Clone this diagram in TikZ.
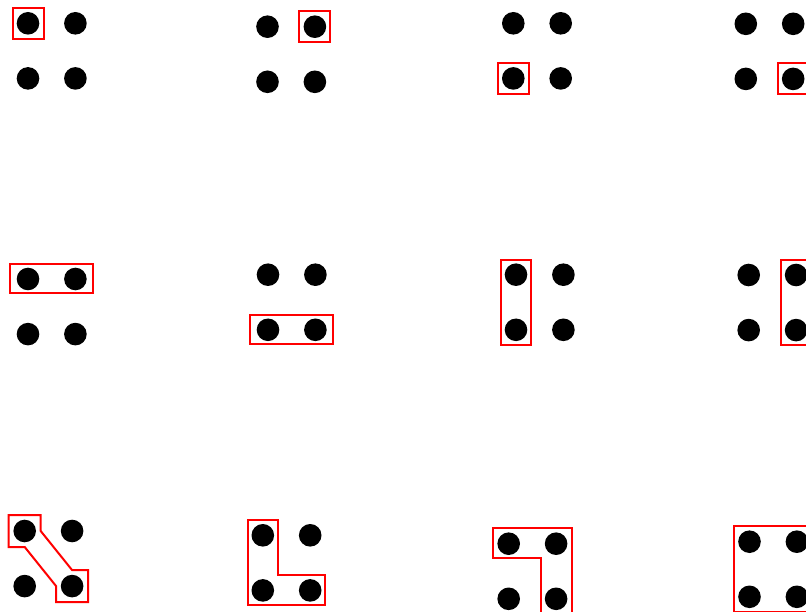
\documentclass[tikz,border=0pt]{standalone}
\usepackage{tikz}
\usetikzlibrary{positioning,fit,calc}
\tikzset{
dot/.style={
circle,
fill=black,
inner sep=0pt,
minimum size=22.6pt
},
selbox/.style={
draw=red,
line width=2pt,
inner sep=4pt
},
widebox/.style={
selbox,
inner xsep=6.5pt,
inner ysep=3pt
},
selshape/.style={
draw=red,
line width=2pt,
line join=miter
}
}
% four dots of one panel: #1a #1b on top, #1c #1d below
\newcommand{\dotgrid}[3]{%
\node[dot] (#1a) at (#2,#3) {};
\node[dot,right=of #1a] (#1b) {};
\node[dot,below=of #1a] (#1c) {};
\node[dot,below=of #1b] (#1d) {};
}

\begin{document}
\begin{tikzpicture}[x=1pt,y=-1pt,node distance=32.1pt and 24.4pt]
\useasboundingbox (0,0) rectangle (806,612);

% first row
\dotgrid{p1}{28}{23.3}
\dotgrid{p2}{267.5}{26.7}
\dotgrid{p3}{513.3}{23.3}
\dotgrid{p4}{745.8}{23.8}
\node[selbox,fit=(p1a)](s1){};
\node[selbox,fit=(p2b)](s2){};
\node[selbox,fit=(p3c)](s3){};
\node[selbox,fit=(p4d)](s4){};

% second row
\dotgrid{p5}{28}{279}
\dotgrid{p6}{268}{274.7}
\dotgrid{p7}{516}{274.7}
\dotgrid{p8}{748.7}{275}
\node[widebox,fit=(p5a)(p5b)](s5){};
\node[widebox,fit=(p6c)(p6d)](s6){};
\node[selbox,inner sep=3.5pt,fit=(p7a)(p7c)](s7){};
\node[selbox,inner sep=3.5pt,fit=(p8b)(p8d)](s8){};

% third row
\dotgrid{p9}{24.7}{531}
\dotgrid{p10}{262.8}{535.3}
\dotgrid{p11}{508.7}{543.7}
\dotgrid{p12}{749.5}{541.7}

\draw[selshape]($(p9a)+(-16,-16)$)--($(p9a)+(16,-16)$)--($(p9a)+(16,0)$)
--($(p9d)+(0,-16)$)--($(p9d)+(16,-16)$)--($(p9d)+(16,16)$)
--($(p9d)+(-16,16)$)--($(p9d)+(-16,0)$)--($(p9a)+(0,16)$)
--($(p9a)+(-16,16)$)--cycle;

\draw[selshape]($(p10a)+(-15,-15)$)--($(p10a)+(15,-15)$)--($(p10c)+(15,-15)$)
--($(p10d)+(15,-15)$)--($(p10d)+(15,15)$)--($(p10c)+(-15,15)$)--cycle;

\draw[selshape]($(p11a)+(-15.5,-15.5)$)--($(p11b)+(15.5,-15.5)$)--($(p11d)+(15.5,15.5)$)
--($(p11d)+(-15.5,15.5)$)--($(p11b)+(-15.5,14.5)$)--($(p11a)+(-15.5,14.5)$)--cycle;

\node[selbox,inner sep=3.8pt,fit=(p12a)(p12b)(p12c)(p12d)](s12){};
\end{tikzpicture}
\end{document}
